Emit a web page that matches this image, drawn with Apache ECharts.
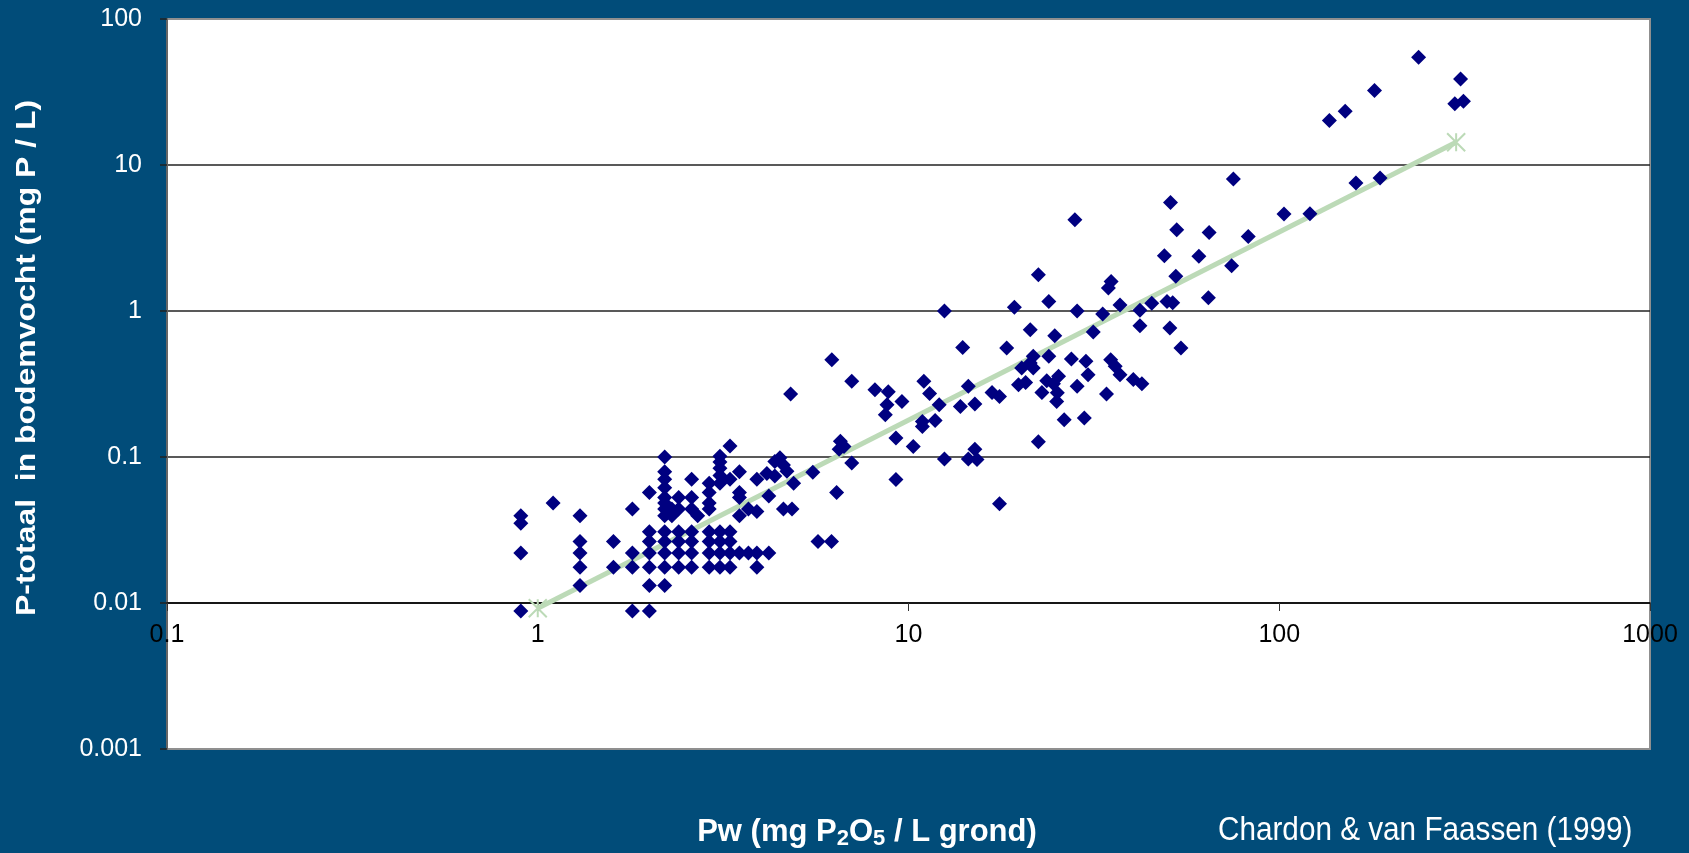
<!DOCTYPE html>
<html>
<head>
<meta charset="utf-8">
<script src="https://cdn.jsdelivr.net/npm/echarts@6.0.0/dist/echarts.min.js"></script>
<style>
html,body{margin:0;padding:0;background:#014C79;}
#chart{width:1689px;height:853px;}
</style>
</head>
<body>
<div id="chart"></div>
<script>
// Dense low-Pw cluster (Pw in mg P2O5/L, P-totaal in mg P/L)
const clusterPw = [
  0.9,0.9,0.9,0.9,1.1,1.3,1.3,1.3,1.3,1.3,1.6,1.6,1.8,1.8,1.8,1.8,2.0,2.0,2.2,2.0,2.2,
  2.0,2.0,2.0,2.0,2.2,2.2,2.2,2.2,2.4,2.4,2.4,2.4,2.6,2.6,2.6,2.6,
  2.2,2.2,2.2,2.2,2.2,2.2,2.2,
  2.3,2.3,2.4,2.4,2.6,2.6,2.7,2.6,
  2.9,2.9,2.9,2.9,3.1,3.1,3.1,3.1,3.1,3.3,3.3,3.5,3.5,3.5,3.5,
  2.9,2.9,2.9,2.9,3.1,3.1,3.1,3.1,3.3,3.3,3.3,3.3,
  3.5,3.7,3.9,4.2,3.9,
  3.7,3.9,3.9,4.15,4.36,4.5,4.6,4.36,4.7,4.9,4.2,4.6,4.85
];
const clusterP = [
  0.0396,0.0352,0.022,0.0088,0.0484,0.0396,0.0264,0.022,0.0176,0.0132,0.0264,0.0176,0.044,0.022,0.0176,0.0088,0.0088,0.0132,0.0132,0.0572,0.1,
  0.0176,0.022,0.0264,0.0308,0.0176,0.022,0.0264,0.0308,0.0176,0.022,0.0264,0.0308,0.0176,0.022,0.0264,0.0308,
  0.0396,0.044,0.0484,0.0528,0.0616,0.0704,0.0792,
  0.044,0.0396,0.0528,0.044,0.0528,0.044,0.0396,0.0704,
  0.066,0.0572,0.0484,0.044,0.101,0.0924,0.0836,0.0748,0.066,0.119,0.0704,0.0792,0.0572,0.0528,0.0396,
  0.0176,0.022,0.0264,0.0308,0.0176,0.022,0.0264,0.0308,0.0176,0.022,0.0264,0.0308,
  0.022,0.022,0.022,0.022,0.0176,
  0.044,0.0424,0.0704,0.077,0.093,0.099,0.088,0.074,0.080,0.066,0.054,0.044,0.044
];
// Wider spread of higher-Pw samples
const spreadPw = [
  4.81,5.52,5.70,6.2,6.4,6.21,6.55,6.7,6.5,7.03,7.03,8.12,8.82,8.75,8.66,9.25,9.25,9.6,10.3,10.9,
  11.8,10.9,11.0,11.4,12.1,12.5,12.5,13.8,14.0,14.5,15.1,14.5,15.3,15.1,16.8,17.6,17.6,18.4,19.3,19.8,
  20.7,20.2,21.7,21.3,21.3,21.7,22.4,22.4,22.9,23.6,24.6,25.4,23.9,23.9,24.8,25.2,25.1,26.3,27.5,28.1,
  28.5,28.5,29.8,30.1,30.5,31.5,33.4,34.2,34.6,35.2,35.1,36.1,37.2,37.2,40.4,42.6,42.1,42.1,45.3,49.0,
  49.8,51.6,50.7,50.9,52.6,52.9,54.3,60.7,64.4,64.7,74.4,75.2,82.5,103,121,136.5,150.6,161,180.7,187,
  237.6,297.5,313.9,308.4
];
const spreadP = [
  0.27,0.0785,0.0264,0.0264,0.0572,0.464,0.128,0.118,0.113,0.091,0.33,0.289,0.28,0.228,0.195,0.135,0.070,0.24,0.118,0.175,
  0.178,0.162,0.33,0.272,0.228,1.0,0.097,0.222,0.563,0.305,0.231,0.097,0.096,0.113,0.277,0.260,0.0479,0.558,1.06,0.313,
  0.324,0.407,0.407,0.44,0.745,0.489,1.77,0.127,0.277,0.333,0.317,0.357,0.49,1.16,0.678,0.275,0.240,0.180,0.469,4.22,
  1.0,0.305,0.185,0.452,0.366,0.718,0.955,0.270,1.44,1.59,0.464,0.418,0.366,1.10,0.339,0.318,1.01,0.793,1.13,2.39,
  1.16,1.14,0.765,5.54,1.73,3.60,0.558,2.37,1.23,3.45,2.04,8.02,3.24,4.62,4.64,20.2,23.3,7.52,32.4,8.15,
  54.6,26.3,27.3,38.8
];
// Fitted line end points
const trendPw = [1, 300];
const trendP = [0.0092, 14.3];
// Axis ranges / tick labels
const xTicks = [0.1, 1, 10, 100, 1000];
const yTicks = [0.001, 0.01, 0.1, 1, 10, 100];

const scatterData = clusterPw.map((v, i) => [v, clusterP[i]])
  .concat(spreadPw.map((v, i) => [v, spreadP[i]]));
const trendData = trendPw.map((v, i) => [v, trendP[i]]);

const FONT = '"Liberation Sans", Arial, sans-serif';
const fmt = v => String(+Number(v).toPrecision(3));

const chart = echarts.init(document.getElementById('chart'), null, {renderer: 'canvas'});
chart.setOption({
  animation: false,
  backgroundColor: '#014C79',
  grid: {
    left: 167, top: 19, width: 1483, height: 730,
    show: true, backgroundColor: '#ffffff',
    borderColor: '#8f8f8f', borderWidth: 2
  },
  xAxis: {
    type: 'log', logBase: 10,
    min: xTicks[0], max: xTicks[xTicks.length - 1], splitNumber: 4,
    position: 'bottom', offset: -146,
    axisLine: {show: true, lineStyle: {color: '#000', width: 1.5}},
    axisTick: {show: true, inside: false, length: 8, lineStyle: {color: '#333', width: 1}},
    minorTick: {show: false},
    splitLine: {show: false},
    axisLabel: {
      color: '#000', fontSize: 25, fontFamily: FONT, margin: 20,
      showMinLabel: true, showMaxLabel: true, formatter: fmt
    }
  },
  yAxis: {
    type: 'log', logBase: 10,
    min: yTicks[0], max: yTicks[yTicks.length - 1], splitNumber: 5,
    axisLine: {show: true, lineStyle: {color: '#666', width: 2}},
    axisTick: {show: true, inside: false, length: 7, lineStyle: {color: '#222', width: 1.5}},
    splitLine: {show: true, showMinLine: false, showMaxLine: false, lineStyle: {color: '#222', width: 1.5}},
    axisLabel: {color: '#fff', fontSize: 25, fontFamily: FONT, margin: 25, formatter: fmt}
  },
  series: [
    {
      type: 'line', data: trendData, z: 2,
      lineStyle: {color: '#bcdab7', width: 5},
      symbol: 'path://M0,0 L10,10 M10,0 L0,10 M5,0 L5,10',
      symbolSize: 18, showSymbol: true,
      itemStyle: {color: 'rgba(0,0,0,0)', borderColor: '#bcdab7', borderWidth: 2},
      silent: true
    },
    {
      type: 'scatter', data: scatterData, z: 3,
      symbol: 'diamond', symbolSize: 15,
      itemStyle: {color: '#000080', opacity: 1},
      silent: true
    }
  ],
  graphic: [
    {
      type: 'text', x: 27, y: 358, rotation: Math.PI / 2, scaleX: 1.14,
      style: {
        text: 'P-totaal  in bodemvocht (mg P / L)',
        fill: '#fff', font: 'bold 28px ' + FONT,
        align: 'center', verticalAlign: 'middle'
      }
    },
    {
      type: 'text', x: 867, y: 832,
      style: {
        text: '{b|Pw (mg P}{s|2}{b|O}{s|5}{b| / L grond)}',
        align: 'center', verticalAlign: 'middle',
        rich: {
          b: {fill: '#fff', fontSize: 31, fontWeight: 'bold', fontFamily: FONT, lineHeight: 36, verticalAlign: 'middle'},
          s: {fill: '#fff', fontSize: 22, fontWeight: 'bold', fontFamily: FONT, lineHeight: 16, verticalAlign: 'bottom'}
        }
      }
    },
    {
      type: 'text', x: 1218, y: 831, scaleX: 0.9,
      style: {
        text: 'Chardon & van Faassen (1999)',
        fill: '#fff', font: '33px ' + FONT,
        align: 'left', verticalAlign: 'middle'
      }
    }
  ]
});
</script>
</body>
</html>
